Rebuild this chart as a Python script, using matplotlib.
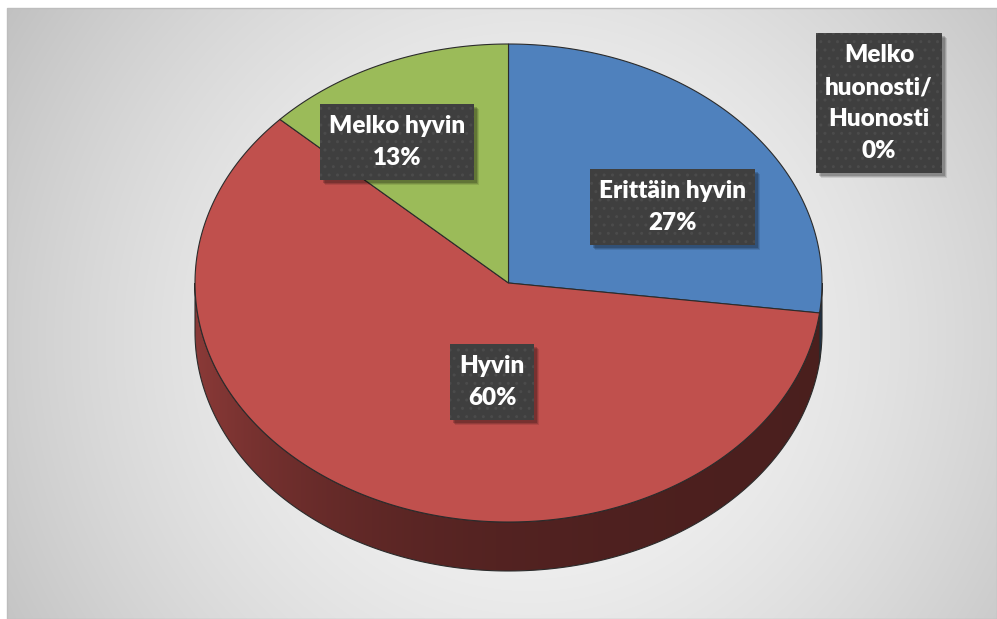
import numpy as np
import matplotlib
matplotlib.use("Agg")
import matplotlib.pyplot as plt
from matplotlib.patches import Polygon, Rectangle
from matplotlib.colors import to_rgb

# ---- data ----
categories = ["Erittäin hyvin", "Hyvin", "Melko hyvin", "Melko huonosti/Huonosti"]
values = [27, 60, 13, 0]
colors = ["#4F81BD", "#C0504D", "#9BBB59", "#8064A2"]

# ---- layout (pixel coords, y down) ----
W, H = 997, 619
cx, cy, rx, ry, depth = 508.5, 283.0, 313.5, 239.0, 49.0
start_angle = 90.0
label_pos = [(672, 207), (492, 382), (397, 142), (879, 103)]
label_wrap = [None, None, None, "Melko\nhuonosti/\nHuonosti"]

fig = plt.figure(figsize=(W / 100, H / 100), dpi=100)
fig.patch.set_facecolor("white")
ax = fig.add_axes([0, 0, 1, 1])
ax.set_xlim(0, W)
ax.set_ylim(H, 0)
ax.axis("off")

# background radial gradient
gx0, gy0 = 7, 8
xs = np.linspace(gx0, W, 400)
ys = np.linspace(gy0, H, 260)
X, Y = np.meshgrid(xs, ys)
d = np.hypot(X - 530, Y - 340) / 600.0
c = np.clip(248 - 52 * d ** 1.6, 190, 250) / 255.0
bg = np.dstack([c, c, c])
ax.imshow(bg, extent=(gx0, W, H, gy0), aspect="auto", zorder=0, interpolation="bilinear")
ax.add_patch(Rectangle((gx0, gy0), W - gx0, H - gy0, fill=False, ec="#bdbdbd", lw=1.0, zorder=1))


def pt(t_deg, dy=0.0):
    t = np.radians(t_deg)
    return cx + rx * np.cos(t), cy - ry * np.sin(t) + dy


# slice angles (clockwise from top)
total = float(sum(values))
angles = []
a = start_angle
for v in values:
    span = 360.0 * v / total
    angles.append((a - span, a))
    a -= span

edge_kw = dict(ec="#2b2b2b", lw=0.8)

# side walls (visible for t in [180, 360])
gxs = np.linspace(cx - rx - 2, cx + rx + 2, 400)
u = (gxs - (cx - rx)) / (2 * rx)
shade = 0.38 + 0.34 * np.exp(-np.clip(u, 0, 1) / 0.27)
for (a0, a1), col, v in zip(angles, colors, values):
    if v == 0:
        continue
    for k in (-360, 0, 360):
        lo = max(a0 + k, 180.0)
        hi = min(a1 + k, 360.0)
        if hi <= lo:
            continue
        ts = np.linspace(lo, hi, 200)
        top = np.array([pt(t) for t in ts])
        bot = np.array([pt(t, depth) for t in ts[::-1]])
        poly = np.vstack([top, bot])
        patch = Polygon(poly, closed=True, fc="none", ec="none", zorder=2)
        ax.add_patch(patch)
        rgb = np.array(to_rgb(col))
        grad = shade[None, :, None] * rgb[None, None, :]
        im = ax.imshow(grad, extent=(gxs[0], gxs[-1], cy + ry + depth + 2, cy - 2),
                       aspect="auto", zorder=2, interpolation="bilinear")
        im.set_clip_path(patch)
        ax.add_patch(Polygon(poly, closed=True, fill=False, zorder=3, **edge_kw))

# top faces
for (a0, a1), col, v in zip(angles, colors, values):
    if v == 0:
        continue
    ts = np.linspace(a0, a1, 300)
    arc = np.array([pt(t) for t in ts])
    poly = np.vstack([[cx, cy], arc])
    ax.add_patch(Polygon(poly, closed=True, fc=col, zorder=4, **edge_kw))

# labels
fs = 17.5
texts = []
for (lx, ly), cat, v, wrap in zip(label_pos, categories, values, label_wrap):
    name = wrap if wrap else cat
    txt = f"{name}\n{v}%"
    t = ax.text(lx, ly, txt, ha="center", va="center", fontsize=fs, family="Lato",
                weight="heavy", color="white", linespacing=1.55, zorder=7)
    texts.append(t)

# label boxes with soft drop shadows
fig.canvas.draw()
renderer = fig.canvas.get_renderer()
inv = ax.transData.inverted()
pad_x, pad_y = 9, 11
for t in texts:
    bb = t.get_window_extent(renderer=renderer)
    (x0, y0), (x1, y1) = inv.transform([[bb.x0, bb.y0], [bb.x1, bb.y1]])
    left, right = min(x0, x1) - pad_x, max(x0, x1) + pad_x
    top, bottom = min(y0, y1) - pad_y, max(y0, y1) + pad_y
    for off, alpha in ((5, 0.10), (4, 0.14), (3, 0.18)):
        ax.add_patch(Rectangle((left + off, top + off), right - left, bottom - top,
                               fc="black", alpha=alpha, ec="none", zorder=5))
    ax.add_patch(Rectangle((left, top), right - left, bottom - top, fc="#3f3f3f",
                           ec="#4b4b4b", lw=0, hatch="..", zorder=6))

fig.savefig("out.png", dpi=100, facecolor="white")
